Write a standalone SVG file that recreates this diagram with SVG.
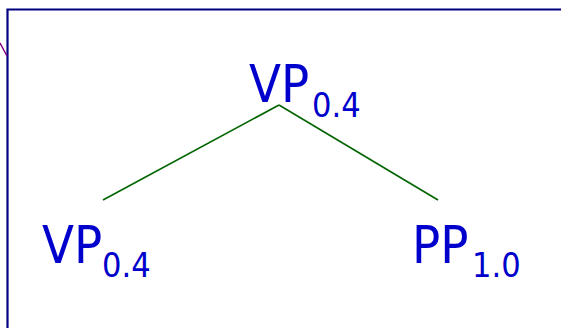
<svg xmlns="http://www.w3.org/2000/svg" width="561" height="328" viewBox="0 0 561 328">
<style>
.lbl{font-family:"DejaVu Sans Condensed","DejaVu Sans",sans-serif;fill:#0000cc}
.big{font-size:52px}
.sub{font-size:34px}
.edge{stroke:#006400;stroke-width:1.6;fill:none}
</style>
<rect x="0" y="0" width="561" height="328" fill="#ffffff"/>
<path d="M7.5,330 V9.5 H565" fill="none" stroke="#000080" stroke-width="2.2"/>
<line x1="0" y1="43" x2="7" y2="56" stroke="#800080" stroke-width="1.5"/>
<g id="connectors">
<line class="edge" x1="279" y1="105" x2="103" y2="200"/>
<line class="edge" x1="279" y1="105" x2="438" y2="200"/>
</g>
<g id="root">
<text class="lbl big" x="249" y="102">VP</text><text class="lbl sub" x="312" y="117">0.4</text>
</g>
<g id="left">
<text class="lbl big" x="42" y="263">VP</text><text class="lbl sub" x="102" y="277">0.4</text>
</g>
<g id="right">
<text class="lbl big" x="412" y="263">PP</text><text class="lbl sub" x="472" y="277">1.0</text>
</g>
</svg>
